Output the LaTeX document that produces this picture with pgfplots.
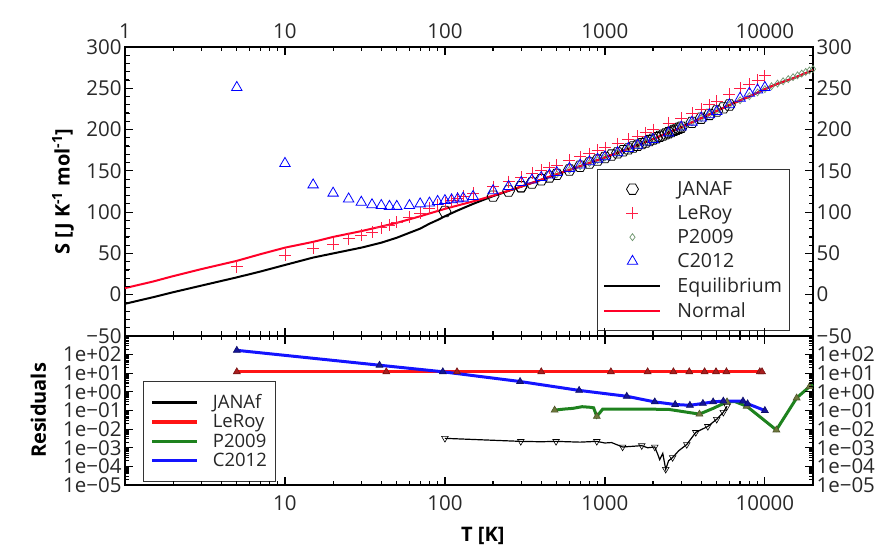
\documentclass[border=0pt]{standalone}
\usepackage{fontspec}
\setmainfont{Open Sans}
\usepackage{pgfplots}
\pgfplotsset{compat=1.18}
\definecolor{nred}{RGB}{255,0,40}
\definecolor{lred}{RGB}{255,30,70}
\definecolor{cblue}{RGB}{0,0,255}
\definecolor{pgray}{RGB}{110,150,110}
\definecolor{rgreen}{RGB}{30,130,30}
\definecolor{rred}{RGB}{255,20,20}
\definecolor{rblue}{RGB}{20,20,255}
\definecolor{mred}{RGB}{170,30,30}
\definecolor{mblue}{RGB}{20,20,150}
\definecolor{mgreen}{RGB}{110,120,60}
\definecolor{txt}{RGB}{40,40,40}

\pgfdeclareplotmark{hexagon}{%
  \pgfpathmoveto{\pgfqpointpolar{0}{\pgfplotmarksize}}%
  \pgfpathlineto{\pgfqpointpolar{60}{\pgfplotmarksize}}%
  \pgfpathlineto{\pgfqpointpolar{120}{\pgfplotmarksize}}%
  \pgfpathlineto{\pgfqpointpolar{180}{\pgfplotmarksize}}%
  \pgfpathlineto{\pgfqpointpolar{240}{\pgfplotmarksize}}%
  \pgfpathlineto{\pgfqpointpolar{300}{\pgfplotmarksize}}%
  \pgfpathclose\pgfusepathqstroke}

\pgfplotsset{
  every axis/.append style={
    axis line style={line width=1.4pt},
    tick label style={font=\fontsize{20.5}{21}\selectfont, text=txt},
    yticklabel style={inner ysep=0pt, text height=14.5pt, text depth=0pt},
    legend cell align=left},
  myticks/.style={tick align=inside, xtick pos=both, ytick pos=both,
    every tick/.style={draw=black, line width=1.2pt},
    major tick length=8pt, minor tick length=4.5pt,
    clip=false},
}

\pgfplotstableread{
T S
100 100.73
200 119.41
250 125.64
298.15 130.68
300 130.86
350 135.33
400 139.22
450 142.66
500 145.74
600 151.08
700 155.57
800 159.55
900 163.06
1000 166.22
1100 169.11
1200 171.79
1300 174.29
1400 176.63
1500 178.85
1600 180.94
1700 182.94
1800 184.85
1900 186.67
2000 188.42
2100 190.10
2200 191.72
2300 193.28
2400 194.79
2500 196.24
2600 197.65
2700 199.02
2800 200.35
2900 201.64
3000 202.89
3500 208.71
4000 213.81
4500 218.36
5000 222.48
5500 226.24
6000 229.71
}\janaf

\pgfplotstableread{
T S
5 34
10 48
15 56
20 61
25 68
30 72
35 76
40 81
45 84
50 88
60 94
70 99
80 105
90 109
100 111
110 114
120 117
130 119
150 123
200 131
250 137
300 142
350 147
400 151
450 154
500 157
600 163
700 167
800 171
900 175
1000 178
1200 183
1400 188
1600 192
1800 196
2000 200
2500 208
3000 214
3500 220
4000 225
4500 230
5000 234
6000 243
7000 250
8000 255
9000 260
10000 265
}\leroy

\pgfplotstableread{
T S
500 145.7
600 151.1
700 155.6
800 159.5
900 163.1
1000 166.2
1200 171.8
1400 176.6
1600 180.9
1800 184.8
2000 188.4
2500 196.2
3000 202.9
3500 208.7
4000 213.8
4500 218.4
5000 222.5
6000 229.7
7000 235.5
8000 240.5
9000 245.0
10000 249.0
11000 252.5
12000 255.7
13000 258.5
14000 261.1
15000 263.5
16000 265.7
17000 267.8
18000 269.8
19000 271.6
20000 273.3
}\ptab

\pgfplotstableread{
T S
5 251
10 159
15 133
20 123
25 116
30 112
35 109
40 108
45 107
50 107
60 108
70 110
80 111
90 113
100 114
110 115
120 116
130 117
150 119
200 126
250 131
300 136
350 139
400 142
450 145
500 148
600 153
700 157
800 161
900 164
1000 167
1200 172
1400 177
1600 181
1800 185
2000 188
2500 196
3000 203
3500 209
4000 214
4500 218
5000 222
6000 230
7000 238
8000 244
9000 248
10000 251
}\ctab

\pgfplotstableread{
T S
1 -11
1.5 -3
2 3
3 11
5 21
7 28
10 36
15 45
20 50
30 57
40 63
50 69
60 75
70 80
80 86
90 90.5
100 95
120 102
150 110
200 119.4
300 130.9
500 145.7
700 155.6
1000 166.2
1500 178.8
2000 188.4
3000 202.9
4000 213.8
5000 222.5
6000 229.7
7000 235.3
8000 240
10000 249
12000 255.5
15000 262
20000 272
}\eqtab

\pgfplotstableread{
T S
1 8
1.5 16
2 22.5
3 31
5 41
7 49
10 57
15 64
20 70
30 77
50 87
70 95
100 104
150 113
200 120
300 131
500 146
700 155.6
1000 166.2
1500 178.8
2000 188.4
3000 202.9
4000 213.8
5000 222.5
6000 229.7
7000 235.3
8000 240
10000 249
12000 255.5
15000 262
20000 272
}\normtab

\pgfplotstableread{
T R
100 0.0032
298 0.0022
400 0.0021
495 0.0022
700 0.0020
890 0.0022
1000 0.0018
1100 0.0019
1290 0.0011
1500 0.0012
1700 0.0013
1850 0.0010
2050 0.0011
2150 0.0004
2200 0.00023
2300 0.0005
2400 0.00007
2500 0.0002
2650 0.0003
2900 0.0007
3250 0.0015
3700 0.0067
4400 0.014
5000 0.034
5500 0.08
5800 0.17
}\rjanaf

\pgfplotstableread{
T R
5 12
43 12
119 12
400 12
1090 12
1850 12
2680 12
3370 12
4200 12
4950 12
5750 12
9300 12
9600 12
}\rleroy

\pgfplotstableread{
T R
485 0.105
560 0.12
630 0.13
720 0.16
800 0.15
850 0.14
890 0.048
970 0.12
1500 0.12
2500 0.115
3900 0.064
4750 0.13
5800 0.29
6500 0.30
7700 0.17
11800 0.009
15800 0.47
19000 1.9
20000 2.4
}\rp

\pgfplotstableread{
T R
5 170
39 27
97 12
295 3.6
690 1.2
1370 0.58
2050 0.29
2750 0.21
3400 0.19
4100 0.24
4750 0.29
5500 0.32
7300 0.32
7800 0.23
10000 0.10
}\rc

\begin{document}
\begin{tikzpicture}
\useasboundingbox (0,0) rectangle (894pt,554pt);
% right-hand tick labels (drawn first, underneath)
\begin{axis}[scale only axis, width=688pt, height=289pt,
  xmode=log, xmin=1, xmax=20000,
  at={(125pt,218pt)}, anchor=south west,
  ymin=-50, ymax=300, xtick=\empty,
  ytick={-50,0,50,100,150,200,250,300},
  yticklabels={−50,0,50,100,150,200,250,300},
  yticklabel pos=right, major tick length=0pt, minor tick length=0pt, axis line style={draw=none},
]
\addplot[draw=none] coordinates {(10,0)};
\end{axis}
\begin{axis}[scale only axis, width=688pt, height=149pt,
  xmode=log, xmin=1, xmax=20000,
  at={(125pt,69pt)}, anchor=south west,
  ymode=log, ymin=1e-5, ymax=1e3, xtick=\empty,
  ytick={1e-5,1e-4,1e-3,1e-2,1e-1,1,10,100},
  yticklabels={1e−05,1e−04,1e−03,1e−02,1e−01,1e+00,1e+01,1e+02},
  yticklabel pos=right, major tick length=0pt, minor tick length=0pt, axis line style={draw=none},
]
\addplot[draw=none] coordinates {(10,1)};
\end{axis}
% ---------------- top panel ----------------
\begin{axis}[scale only axis, width=688pt, height=289pt, myticks,
  xmode=log, xmin=1, xmax=20000,
  at={(125pt,218pt)}, anchor=south west,
  ymin=-50, ymax=300,
  xtick={1,10,100,1000,10000}, xticklabels={1,10,100,1000,10000},
  minor xtick={2,3,4,5,6,7,8,9,20,30,40,50,60,70,80,90,200,300,400,500,600,700,800,900,2000,3000,4000,5000,6000,7000,8000,9000,20000},
  xticklabel pos=upper,
  xticklabel style={yshift=5pt},
  ytick={-50,0,50,100,150,200,250,300},
  yticklabels={−50,0,50,100,150,200,250,300},
  minor y tick num=4,
  ylabel={\textbf{S [J K\textsuperscript{-1} mol\textsuperscript{-1}]}},
  ylabel style={font=\fontsize{20}{21}\selectfont, at={(axis description cs:-0.09,0.5)}, anchor=center},
  legend image code/.code={\draw[mark repeat=2,mark phase=2,#1] plot coordinates {(0pt,0pt) (28pt,0pt) (56pt,0pt)};},
  legend style={at={(0.686,0.578)}, anchor=north west, draw=black!80, line width=1pt,
    font=\fontsize{19.5}{20}\selectfont, text=black!85, row sep=4.5pt, column sep=14pt, inner xsep=6pt, inner ysep=10pt},
  extra description/.code={
    \foreach \x in {10,100,1000,10000} {
      \draw[black, line width=1.1pt] (axis cs:\x,-50) -- ++(0pt,8pt);
      \draw[black, line width=1.1pt] (axis cs:\x,300) -- ++(0pt,-8pt);
    }
    \foreach \x in {2,3,4,5,6,7,8,9,20,30,40,50,60,70,80,90,200,300,400,500,600,700,800,900,2000,3000,4000,5000,6000,7000,8000,9000} {
      \draw[black, line width=1pt] (axis cs:\x,-50) -- ++(0pt,4.5pt);
      \draw[black, line width=1pt] (axis cs:\x,300) -- ++(0pt,-4.5pt);
    }
    \foreach \y in {0,50,100,150,200,250} {
      \draw[black, line width=1.1pt] (axis cs:1,\y) -- ++(8pt,0pt);
      \draw[black, line width=1.1pt] (axis cs:20000,\y) -- ++(-8pt,0pt);
    }
    \foreach \y in {-40,-30,-20,-10,10,20,30,40,60,70,80,90,110,120,130,140,160,170,180,190,210,220,230,240,260,270,280,290} {
      \draw[black, line width=1pt] (axis cs:1,\y) -- ++(4.5pt,0pt);
      \draw[black, line width=1pt] (axis cs:20000,\y) -- ++(-4.5pt,0pt);
    }
  },
]
\addplot[only marks, mark=hexagon, mark size=6pt, black, line width=0.8pt] table[x=T,y=S]{\janaf};
\addlegendentry{JANAF}
\addplot[only marks, mark=+, mark size=6pt, lred, line width=0.8pt] table[x=T,y=S]{\leroy};
\addlegendentry{LeRoy}
\addplot[only marks, mark=diamond, mark size=3.5pt, pgray, line width=0.7pt] table[x=T,y=S]{\ptab};
\addlegendentry{P2009}
\addplot[only marks, mark=triangle, mark size=6pt, cblue, line width=0.8pt] table[x=T,y=S]{\ctab};
\addlegendentry{C2012}
\addplot[black, line width=2pt, no marks] table[x=T,y=S]{\eqtab};
\addlegendentry{Equilibrium}
\addplot[nred, line width=2pt, no marks] table[x=T,y=S]{\normtab};
\addlegendentry{Normal}
\end{axis}
% ---------------- bottom panel ----------------
\begin{axis}[scale only axis, width=688pt, height=149pt, myticks,
  xmode=log, xmin=1, xmax=20000,
  at={(125pt,69pt)}, anchor=south west,
  ymode=log, ymin=1e-5, ymax=1e3,
  xtick={10,100,1000,10000}, xticklabels={10,100,1000,10000},
  minor xtick={2,3,4,5,6,7,8,9,20,30,40,50,60,70,80,90,200,300,400,500,600,700,800,900,2000,3000,4000,5000,6000,7000,8000,9000,20000},
  xticklabel style={yshift=-7pt},
  ytick={1e-5,1e-4,1e-3,1e-2,1e-1,1,10,100},
  yticklabels={1e−05,1e−04,1e−03,1e−02,1e−01,1e+00,1e+01,1e+02},
  xlabel={\textbf{T [K]}},
  xlabel style={font=\fontsize{20}{21}\selectfont, at={(axis description cs:0.52,-0.345)}, anchor=center},
  ylabel={\textbf{Residuals}},
  ylabel style={font=\fontsize{20}{21}\selectfont, at={(axis description cs:-0.126,0.5)}, anchor=center},
  legend image code/.code={\draw[#1, mark=none, line width=3.5pt] (0pt,0pt) -- (45pt,0pt);},
  legend style={at={(0.026,0.698)}, anchor=north west, draw=black!80, line width=1pt,
    font=\fontsize{18.5}{19}\selectfont, text=black!85, row sep=0.5pt, column sep=12pt, inner xsep=7pt, inner ysep=11pt},
  extra description/.code={
    \foreach \x in {10,100,1000,10000} {
      \draw[black, line width=1.1pt] (axis cs:\x,1e-5) -- ++(0pt,8pt);
      \draw[black, line width=1.1pt] (axis cs:\x,1e3) -- ++(0pt,-8pt);
    }
    \foreach \x in {2,3,4,5,6,7,8,9,20,30,40,50,60,70,80,90,200,300,400,500,600,700,800,900,2000,3000,4000,5000,6000,7000,8000,9000} {
      \draw[black, line width=1pt] (axis cs:\x,1e-5) -- ++(0pt,4.5pt);
      \draw[black, line width=1pt] (axis cs:\x,1e3) -- ++(0pt,-4.5pt);
    }
    \foreach \e in {-4,-3,-2,-1,0,1,2} {
      \draw[black, line width=1.1pt] (axis cs:1,1e\e) -- ++(8pt,0pt);
      \draw[black, line width=1.1pt] (axis cs:20000,1e\e) -- ++(-8pt,0pt);
    }
    \foreach \e in {-5,-4,-3,-2,-1,0,1,2} {
      \foreach \m in {2,3,4,5,6,7,8,9} {
        \draw[black, line width=0.9pt] (axis cs:1,\m e\e) -- ++(4pt,0pt);
        \draw[black, line width=0.9pt] (axis cs:20000,\m e\e) -- ++(-4pt,0pt);
      }
    }
  },
]
\addplot[black, line width=1.2pt, mark=triangle, mark options={rotate=180, fill=white, line width=0.6pt}, mark size=3.8pt,
  mark indices={1,2,4,6,9,11,13,17,19,21,22,23,24,25,26}] table[x=T,y=R]{\rjanaf};
\addlegendentry{JANAf}
\addplot[rred, line width=3pt, mark=triangle*, mark size=4pt, mark options={fill=mred, draw=mred!70!black, line width=0.6pt}] table[x=T,y=R]{\rleroy};
\addlegendentry{LeRoy}
\addplot[rgreen, line width=3pt, mark=triangle*, mark size=4pt, mark options={fill=mgreen, draw=mgreen!70!black, line width=0.6pt},
  mark indices={1,7,11,13,15,16,17,18}] table[x=T,y=R]{\rp};
\addlegendentry{P2009}
\addplot[rblue, line width=3pt, mark=triangle*, mark size=4pt, mark options={fill=mblue, draw=mblue!70!black, line width=0.6pt}] table[x=T,y=R]{\rc};
\addlegendentry{C2012}
\end{axis}
\end{tikzpicture}
\end{document}
